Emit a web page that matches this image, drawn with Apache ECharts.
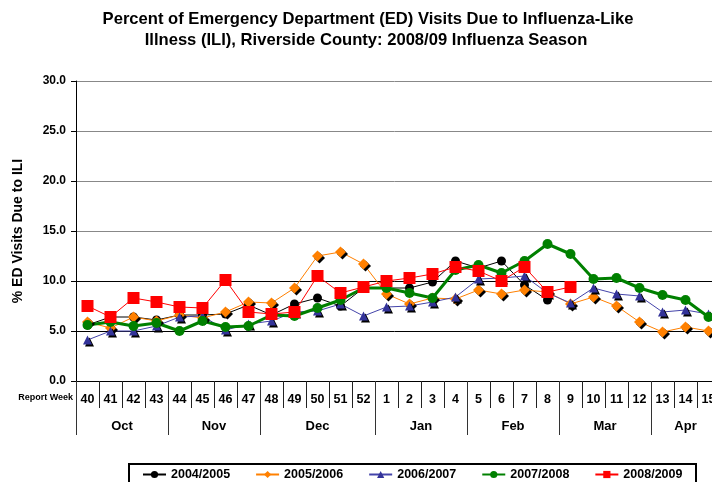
<!DOCTYPE html>
<html>
<head>
<meta charset="utf-8">
<script src="https://cdn.jsdelivr.net/npm/echarts@6/dist/echarts.min.js"></script>
<style>html,body{margin:0;padding:0;background:#fff}#c{width:712px;height:482px}</style>
</head>
<body>
<div id="c"></div>
<script>
var weeks = ['40','41','42','43','44','45','46','47','48','49','50','51','52','1','2','3','4','5','6','7','8','9','10','11','12','13','14','15'];
var months = ['Oct','Nov','Dec','Jan','Feb','Mar','Apr'];
var monthWeeks = [4,4,5,4,4,4,3];
var yTicks = [0,5,10,15,20,25,30];

var s0405 = [5.6,6.4,6.4,6.1,6.6,6.6,6.7,7.6,6.6,7.7,8.3,7.5,9.3,9.3,9.3,9.9,12.0,11.3,12.0,9.6,8.1,null,null,null,null,null,null,null];
var s0506 = [5.9,5.3,6.4,6.0,6.6,6.3,6.9,7.9,7.8,9.3,12.5,12.9,11.7,8.7,7.7,8.3,8.2,9.1,8.7,9.1,8.9,7.7,8.4,7.5,5.9,4.9,5.4,5.0];
var s0607 = [4.1,5.0,5.0,5.5,6.4,6.5,5.1,5.7,6.0,6.9,7.0,7.7,6.5,7.4,7.5,7.9,8.4,10.2,10.3,10.5,8.8,7.8,9.3,8.7,8.5,6.9,7.1,6.7];
var s0708 = [5.6,5.9,5.5,5.8,5.0,6.0,5.4,5.5,6.6,6.5,7.3,8.1,9.3,9.3,8.8,8.3,11.1,11.6,10.8,12.0,13.7,12.7,10.2,10.3,9.3,8.6,8.1,6.4];
var s0809 = [7.5,6.4,8.3,7.9,7.4,7.3,10.1,6.9,6.7,6.9,10.5,8.8,9.4,10.0,10.3,10.7,11.4,11.0,10.0,11.4,8.9,9.4,null,null,null,null,null,null];
var seriesNames = ['2004/2005','2005/2006','2006/2007','2007/2008','2008/2009'];

var bounds = [0], centers = [], acc = 0;
monthWeeks.forEach(function(n){ centers.push(acc + n/2); acc += n; bounds.push(acc); });

var FONT = '"Liberation Sans", Arial, sans-serif';
var chart = echarts.init(document.getElementById('c'));
var shadow = {shadowColor:'#000', shadowBlur:0, shadowOffsetX:2, shadowOffsetY:2};

chart.setOption({
  animation:false,
  backgroundColor:'#fff',
  textStyle:{fontFamily:FONT},
  grid:{left:76, top:81, width:644, height:300, containLabel:false, outerBoundsMode:'none'},
  graphic:[
    {type:'text', style:{text:'Percent of Emergency Department (ED) Visits Due to Influenza-Like', x:368, y:19, textAlign:'center', textVerticalAlign:'middle', font:'bold 16.6px '+FONT, fill:'#000'}},
    {type:'text', style:{text:'Illness (ILI), Riverside County: 2008/09 Influenza Season', x:366, y:40, textAlign:'center', textVerticalAlign:'middle', font:'bold 16.6px '+FONT, fill:'#000'}},
    {type:'text', style:{text:'Report Week', x:73, y:398, textAlign:'right', textVerticalAlign:'middle', font:'bold 9px '+FONT, fill:'#000'}},
    {type:'rect', shape:{x:129, y:464, width:567, height:30}, style:{fill:'none', stroke:'#000', lineWidth:2}}
  ],
  legend:{
    left:142, top:468, padding:0, itemWidth:23, itemHeight:9, itemGap:25,
    textStyle:{fontFamily:FONT, fontWeight:'bold', fontSize:12.5, color:'#000'},
    data:seriesNames
  },
  xAxis:[
    {type:'category', data:weeks, position:'bottom', gridIndex:0,
     axisLine:{show:true, lineStyle:{color:'#000', width:1}},
     axisTick:{show:true, interval:0, length:27, lineStyle:{color:'#222'}},
     axisLabel:{interval:0, margin:12, fontFamily:FONT, fontWeight:'bold', fontSize:12.5, color:'#000'},
     splitLine:{show:false}},
    {type:'value', min:0, max:28, position:'bottom', gridIndex:0,
     axisLine:{show:false},
     axisTick:{show:true, customValues:bounds, length:54, lineStyle:{color:'#333'}},
     axisLabel:{show:true, customValues:centers, margin:39, fontFamily:FONT, fontWeight:'bold', fontSize:13, color:'#000',
       formatter:function(v){ var i = centers.indexOf(v); return i>=0 ? months[i] : ''; }},
     splitLine:{show:false}}
  ],
  yAxis:{type:'value', min:0, max:30, interval:5,
    name:'% ED Visits Due to ILI', nameLocation:'middle', nameGap:51,
    nameTextStyle:{fontFamily:FONT, fontWeight:'bold', fontSize:14, color:'#000'},
    axisLine:{show:true, lineStyle:{color:'#000'}},
    axisTick:{show:true, length:5, lineStyle:{color:'#000'}},
    axisLabel:{margin:10, fontFamily:FONT, fontWeight:'bold', fontSize:12, color:'#000', formatter:function(v){return v.toFixed(1);}},
    splitLine:{show:true, lineStyle:{color:['#000','#000','#000','#888','#888','#888','#888'], width:1}}
  },
  series:[
    {name:seriesNames[0], type:'line', data:s0405, xAxisIndex:0, symbol:'circle', symbolSize:9,
     itemStyle:{color:'#000'}, lineStyle:{color:'#000', width:1}},
    {name:seriesNames[1], type:'line', data:s0506, xAxisIndex:0, symbol:'diamond', symbolSize:11,
     itemStyle:Object.assign({color:'#FF8000'}, shadow), lineStyle:{color:'#FF8000', width:1}},
    {name:seriesNames[2], type:'line', data:s0607, xAxisIndex:0, symbol:'triangle', symbolSize:9,
     itemStyle:Object.assign({color:'#333399'}, shadow), lineStyle:{color:'#4444AA', width:1}},
    {name:seriesNames[3], type:'line', data:s0708, xAxisIndex:0, symbol:'circle', symbolSize:10,
     itemStyle:{color:'#008000'}, lineStyle:{color:'#008000', width:3}},
    {name:seriesNames[4], type:'line', data:s0809, xAxisIndex:0, symbol:'rect', symbolSize:12,
     itemStyle:{color:'#FF0000'}, lineStyle:{color:'#FF0000', width:1}}
  ]
});
</script>
</body>
</html>
